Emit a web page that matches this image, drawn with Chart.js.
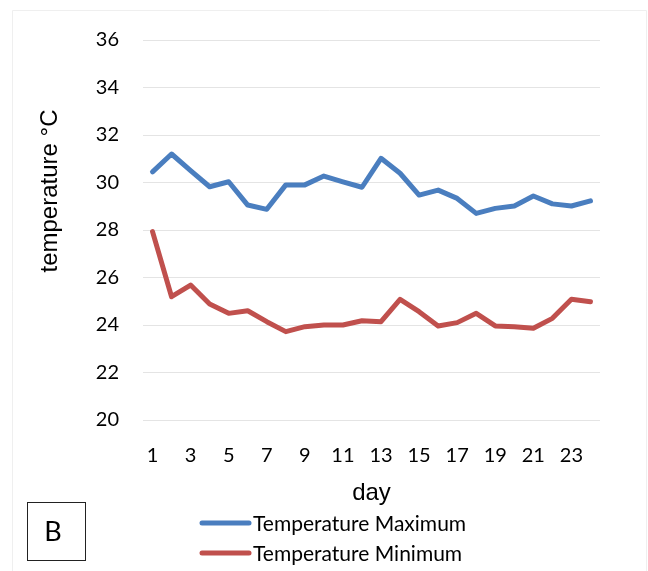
<!DOCTYPE html>
<html>
<head>
<meta charset="utf-8">
<script src="https://cdn.jsdelivr.net/npm/chart.js@4/dist/chart.umd.min.js"></script>
<style>
  html, body { margin: 0; padding: 0; background: #ffffff; }
  #wrap { position: relative; width: 648px; height: 571px; }
  canvas { position: absolute; left: 0; top: 0; }
</style>
</head>
<body>
<div id="wrap"><canvas id="c" width="648" height="571"></canvas></div>
<script>
const days = [1,2,3,4,5,6,7,8,9,10,11,12,13,14,15,16,17,18,19,20,21,22,23,24];
const tempMax = [30.45,31.2,30.5,29.82,30.03,29.05,28.87,29.9,29.9,30.27,30.03,29.8,31.02,30.39,29.47,29.68,29.33,28.7,28.91,29.01,29.43,29.1,29.01,29.23];
const tempMin = [27.93,25.19,25.68,24.88,24.49,24.6,24.14,23.72,23.93,24.0,24.0,24.18,24.14,25.08,24.56,23.96,24.1,24.49,23.96,23.93,23.86,24.28,25.08,24.98];
const yTicks = [20,22,24,26,28,30,32,34,36];
const seriesNames = ['Temperature Maximum', 'Temperature Minimum'];
const seriesColors = ['#4a7ebf', '#c0504d'];
const xTitle = 'day';
const yTitle = 'temperature °C';
const panelLabel = 'B';

const FONT = 'Lato, "Open Sans", sans-serif';
const TITLE_FONT = '"Liberation Sans", Arial, sans-serif';

const extras = {
  id: 'extras',
  afterDraw(chart) {
    const ctx = chart.ctx;
    ctx.save();
    // faint frame
    ctx.strokeStyle = '#efefef';
    ctx.lineWidth = 1;
    ctx.beginPath();
    ctx.moveTo(12.5, 580); ctx.lineTo(12.5, 10.5); ctx.lineTo(646.5, 10.5); ctx.lineTo(646.5, 580);
    ctx.stroke();
    // y title
    ctx.fillStyle = '#000';
    ctx.font = '24px ' + TITLE_FONT;
    ctx.textAlign = 'center';
    ctx.textBaseline = 'middle';
    ctx.translate(50, 191);
    ctx.rotate(-Math.PI / 2);
    ctx.fillText(yTitle, 0, 0);
    ctx.restore();

    ctx.save();
    // legend
    ctx.font = '21px ' + FONT;
    ctx.textAlign = 'left';
    ctx.textBaseline = 'middle';
    const ys = [523, 553];
    seriesNames.forEach((n, i) => {
      ctx.strokeStyle = seriesColors[i];
      ctx.lineWidth = 5;
      ctx.lineCap = 'round';
      ctx.beginPath();
      ctx.moveTo(202, ys[i]); ctx.lineTo(249, ys[i]);
      ctx.stroke();
      ctx.fillStyle = '#000';
      ctx.fillText(n, 253, ys[i] + 1);
    });
    // panel label box
    ctx.strokeStyle = '#222';
    ctx.lineWidth = 1;
    ctx.strokeRect(27.5, 502.5, 58, 58);
    ctx.font = '27px ' + FONT;
    ctx.textAlign = 'center';
    ctx.fillStyle = '#000';
    ctx.fillText(panelLabel, 53, 532);
    ctx.restore();
  }
};

new Chart(document.getElementById('c'), {
  type: 'line',
  data: {
    labels: days,
    datasets: [
      { label: seriesNames[0], data: tempMax, borderColor: seriesColors[0], backgroundColor: seriesColors[0], borderWidth: 5, pointRadius: 0, tension: 0, borderJoinStyle: 'round', borderCapStyle: 'round' },
      { label: seriesNames[1], data: tempMin, borderColor: seriesColors[1], backgroundColor: seriesColors[1], borderWidth: 5, pointRadius: 0, tension: 0, borderJoinStyle: 'round', borderCapStyle: 'round' }
    ]
  },
  options: {
    responsive: false,
    animation: false,
    devicePixelRatio: 1,
    layout: { padding: { left: 0, right: 48, top: 40, bottom: 0 } },
    plugins: { legend: { display: false }, tooltip: { enabled: false } },
    scales: {
      x: {
        type: 'category',
        offset: true,
        grid: { display: false, drawTicks: false },
        border: { display: false },
        ticks: {
          autoSkip: false,
          maxRotation: 0,
          padding: 24,
          color: '#000',
          font: { family: FONT, size: 20 },
          callback: function(v, i) { const d = days[i]; return d % 2 === 1 ? String(d) : ''; }
        },
        title: { display: true, text: xTitle, color: '#000', font: { family: TITLE_FONT, size: 24 }, padding: { top: 0, bottom: 63 } },
        afterFit(s) { s.height = 151; }
      },
      y: {
        min: 20, max: 36,
        afterBuildTicks(s) { s.ticks = yTicks.map(v => ({ value: v })); },
        grid: { color: '#e4e4e4', lineWidth: 1, drawTicks: false },
        border: { display: false },
        ticks: { padding: 24, color: '#000', font: { family: FONT, size: 20 } },
        afterFit(s) { s.width = 143; }
      }
    }
  },
  plugins: [extras]
});
</script>
</body>
</html>
